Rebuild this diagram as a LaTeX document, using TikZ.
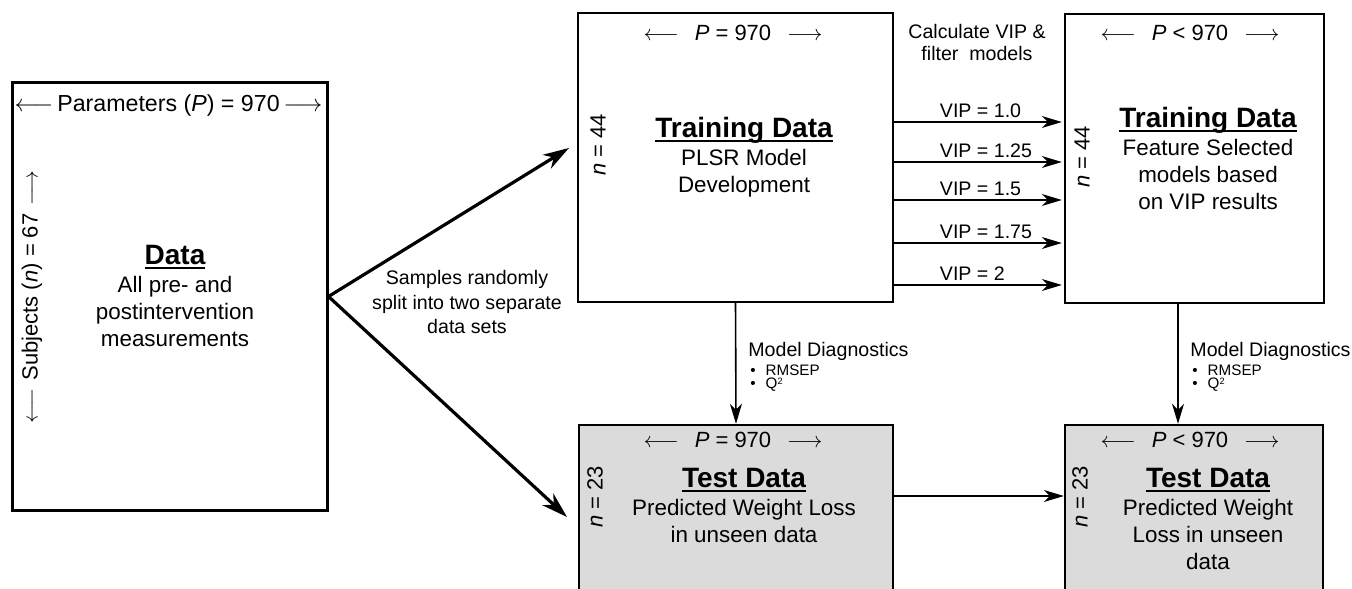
\documentclass[tikz,border=0pt]{standalone}
\usepackage{fontspec}
\setmainfont{Liberation Sans}
\usetikzlibrary{arrows.meta,positioning}
\definecolor{testgray}{gray}{0.86}
\newcommand\ttlfont{\fontsize{14}{13.7}\selectfont\bfseries}
\newcommand\bulfont{\fontsize{7.6}{6.9}\selectfont\lineskiplimit-10pt\relax}
\newcommand\qsq{Q\raisebox{2.2pt}{\fontsize{4.6}{5}\selectfont 2}}
\newcommand\ulhead[1]{\setbox0\hbox{#1}\rlap{\rule[-2pt]{\wd0}{0.9pt}}\box0}
\begin{document}
\begin{tikzpicture}[x=0.5pt, y=-0.5pt, line cap=butt, line join=miter,
	box/.style={draw, line width=1.2pt, inner sep=0pt},
	body/.style={font=\fontsize{11.2}{13.7}\selectfont, align=center, inner sep=0pt},
	dim/.style={font=\fontsize{11}{13}\selectfont, inner sep=0pt},
	note/.style={font=\fontsize{9.8}{12.2}\selectfont, align=center, inner sep=0pt},
	bullets/.style={font=\bulfont, align=left, inner sep=0pt},
	split/.style={line width=1.6pt, -{Stealth[length=13pt, width=8pt, inset=4pt]}},
	flow/.style={line width=0.8pt, -{Stealth[length=10pt, width=6pt, inset=3pt]}}]
	\useasboundingbox (0,0) rectangle (1352,588);
	\clip (0,0) rectangle (1352,588);
	\node[box, line width=1.5pt, minimum width=157.5pt, minimum height=213.5pt] (data) at (169.5,296.5) {};
	\node[box, minimum width=157.5pt, minimum height=144.5pt] (train) at (735.5,157.5) {};
	\node[box, minimum width=129.5pt, minimum height=144.5pt] (feat) at (1194.5,158.5) {};
	\node[box, fill=testgray, minimum width=157pt, minimum height=100pt] (test) at (736,525) {};
	\node[box, fill=testgray, minimum width=129pt, minimum height=100pt] (testfeat) at (1194,525) {};
	\node[dim, font=\fontsize{11.6}{14}\selectfont] (datap) at (168.5,105) {$\longleftarrow$\hspace{2pt}Parameters (\textit{P}) = 970\hspace{2pt}$\longrightarrow$};
	\node[dim, rotate=90] (datan) at (32,297) {$\longleftarrow$\hspace{4pt}Subjects (\textit{n}) = 67\hspace{4pt}$\longrightarrow$};
	\node[body, anchor=north] (datatxt) at (175,245) {{\ttlfont\ulhead{Data}}\\All pre- and\\postintervention\\measurements};
	\node[dim] (trainp) at (733,33) {$\longleftarrow$\hspace{8pt}\textit{P} = 970\hspace{8pt}$\longrightarrow$};
	\node[dim, rotate=90] (trainn) at (598,145) {\textit{n} = 44};
	\node[body, anchor=north] (traintxt) at (744,117) {{\ttlfont\ulhead{Training Data}}\\PLSR Model\\Development};
	\node[dim] (featp) at (1190,33) {$\longleftarrow$\hspace{8pt}\textit{P} < 970\hspace{8pt}$\longrightarrow$};
	\node[dim, rotate=90] (featn) at (1082,157) {\textit{n} = 44};
	\node[body, anchor=north] (feattxt) at (1208,107) {{\ttlfont\ulhead{Training Data}}\\Feature Selected\\models based\\on VIP results};
	\node[dim] (testp) at (733,440) {$\longleftarrow$\hspace{8pt}\textit{P} = 970\hspace{8pt}$\longrightarrow$};
	\node[dim, rotate=90] (testn) at (595,497) {\textit{n} = 23};
	\node[body, anchor=north] (testtxt) at (744,468) {{\ttlfont\ulhead{Test Data}}\\Predicted Weight Loss\\in unseen data};
	\node[dim] (testfeatp) at (1190,440) {$\longleftarrow$\hspace{8pt}\textit{P} < 970\hspace{8pt}$\longrightarrow$};
	\node[dim, rotate=90] (testfeatn) at (1080,497) {\textit{n} = 23};
	\node[body, anchor=north] (testfeattxt) at (1208,468) {{\ttlfont\ulhead{Test Data}}\\Predicted Weight\\Loss in unseen\\data};
	\coordinate (splittop) at (569,148);
	\coordinate (splitbot) at (567,517);
	\draw[split] (data.east) -- (splittop);
	\draw[split] (data.east) -- (splitbot);
	\node[note] (splitlbl) at (467,302) {Samples randomly\\split into two separate\\data sets};
	\node[note, font=\fontsize{9.8}{11}\selectfont] (viplbl) at (977,42) {Calculate VIP \&\\filter~ models};
	\foreach \y/\vipval [count=\i] in {122/1.0, 162/1.25, 200/1.5, 243/1.75, 285/2} {
		\coordinate (vip\i) at (0,\y);
		\draw[flow, shorten >=1pt] (train.east |- vip\i) -- (feat.west |- vip\i) node[note, pos=0.265, anchor=south west, yshift=2pt] {VIP = \vipval};
	}
	\node[note, anchor=north west] (diag) at (748,342) {Model Diagnostics};
	\node[bullets, below=1.5pt of diag.south west, anchor=north west, xshift=1pt] (diagbul) {\textbullet\hspace{5pt}RMSEP\\\textbullet\hspace{5pt}\qsq};
	\node[note, anchor=north west] (diagfeat) at (1190,342) {Model Diagnostics};
	\node[bullets, below=1.5pt of diagfeat.south west, anchor=north west, xshift=1pt] (diagfeatbul) {\textbullet\hspace{5pt}RMSEP\\\textbullet\hspace{5pt}\qsq};
	\draw[flow] (train.south) -- (test.north);
	\coordinate (diagx) at (1178,0);
	\draw[flow] (feat.south -| diagx) -- (testfeat.north -| diagx);
	\coordinate (testy) at (0,496);
	\draw[flow] (test.east |- testy) -- (testfeat.west |- testy);
\end{tikzpicture}
\end{document}
